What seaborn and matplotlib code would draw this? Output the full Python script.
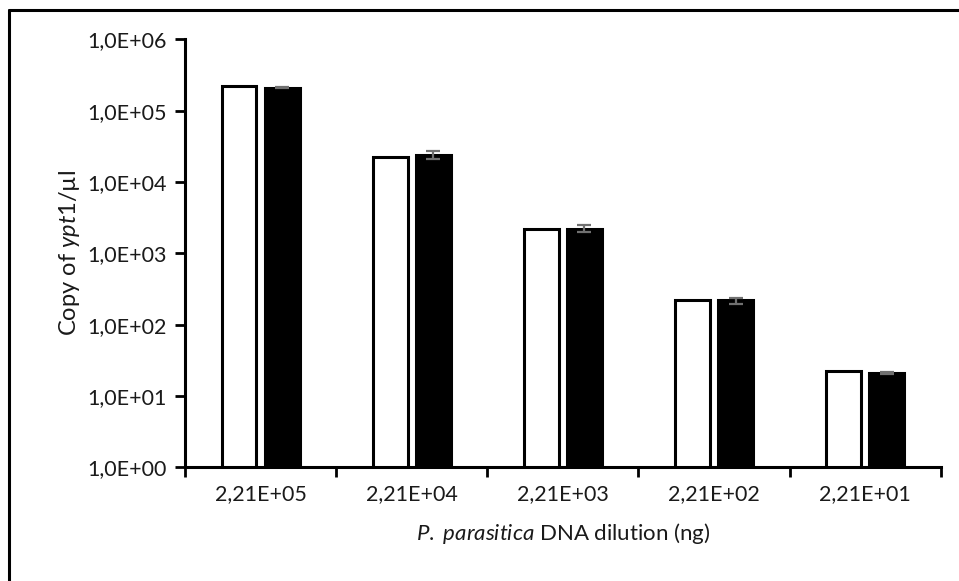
import numpy as np
import pandas as pd
import matplotlib
matplotlib.use("Agg")
import matplotlib.pyplot as plt
from matplotlib.lines import Line2D
from matplotlib.ticker import FixedLocator, NullLocator
import seaborn as sns

categories = ["2,21E+05", "2,21E+04", "2,21E+03", "2,21E+02", "2,21E+01"]
expected = [2.21e5, 2.21e4, 2.21e3, 2.21e2, 2.21e1]
observed = [2.10e5, 2.40e4, 2.22e3, 2.18e2, 2.08e1]
observed_err = [0.04e5, 0.30e4, 0.25e3, 0.22e2, 0.08e1]
ytick_values = [1e0, 1e1, 1e2, 1e3, 1e4, 1e5, 1e6]
ytick_labels = ["1,0E+00", "1,0E+01", "1,0E+02", "1,0E+03", "1,0E+04", "1,0E+05", "1,0E+06"]

df = pd.DataFrame({
    "dilution": categories * 2,
    "copies": expected + observed,
    "series": ["Expected"] * len(categories) + ["Observed"] * len(categories),
})

sns.set_theme(style="white")
plt.rcParams["font.family"] = ["Lato", "DejaVu Sans"]
plt.rcParams["mathtext.fontset"] = "custom"
plt.rcParams["mathtext.rm"] = "Lato"
plt.rcParams["mathtext.it"] = "Lato:italic"

fig = plt.figure(figsize=(9.59, 5.81), dpi=100)
ax = fig.add_axes([0.1929, 0.1957, 0.981 - 0.1929, 0.9324 - 0.1957])

sns.barplot(data=df, x="dilution", y="copies", hue="series", order=categories,
            palette={"Expected": "white", "Observed": "black"},
            width=0.57, gap=0.19, edgecolor="black", linewidth=2.2,
            errorbar=None, legend=False, ax=ax)

# error bars on the observed series
obs_container = ax.containers[1]
xs = [p.get_x() + p.get_width() / 2 for p in obs_container.patches]
ax.errorbar(xs, observed, yerr=observed_err, fmt="none", ecolor="#707070",
            elinewidth=1.6, capsize=5, capthick=1.6, zorder=5)

ax.set_yscale("log")
ax.set_ylim(1, 1e6)
ax.set_xlim(-0.5, len(categories) - 0.5)
ax.yaxis.set_major_locator(FixedLocator(ytick_values))
ax.yaxis.set_minor_locator(NullLocator())
ax.set_yticklabels(ytick_labels)

# Excel-style category ticks on the boundaries, labels at centres
ax.set_xticks(np.arange(len(categories) + 1) - 0.5)
ax.set_xticklabels([""] * (len(categories) + 1))
ax.set_xticks(np.arange(len(categories)), minor=True)
ax.set_xticklabels(categories, minor=True)
ax.tick_params(axis="x", which="minor", length=0, pad=12, labelsize=15.5, colors="#1a1a1a")
ax.tick_params(axis="x", which="major", direction="out", length=7, width=2, color="black", bottom=True)
ax.tick_params(axis="y", which="major", direction="out", length=7, width=2, color="black",
               left=True, labelsize=15.5, labelcolor="#1a1a1a", pad=6)

for side in ["top", "right"]:
    ax.spines[side].set_visible(False)
for side in ["left", "bottom"]:
    ax.spines[side].set_color("black")
    ax.spines[side].set_linewidth(2.2)

ax.set_xlabel(r"$\mathit{P.}$ $\mathit{parasitica}$ DNA dilution (ng)", fontsize=16, color="#1a1a1a", labelpad=12)
ax.set_ylabel(r"Copy of $\mathit{ypt1}$/µl", fontsize=17, color="#1a1a1a", labelpad=4)

# frame around the picture (only top and left visible in the reference)
fig.add_artist(Line2D([9 / 959, 1.0], [1 - 9.5 / 581, 1 - 9.5 / 581], transform=fig.transFigure,
                      color="black", linewidth=2.2))
fig.add_artist(Line2D([9 / 959, 9 / 959], [0.0, 1 - 9.5 / 581], transform=fig.transFigure,
                      color="black", linewidth=2.2))

fig.savefig("out.png", dpi=100, facecolor="white")
